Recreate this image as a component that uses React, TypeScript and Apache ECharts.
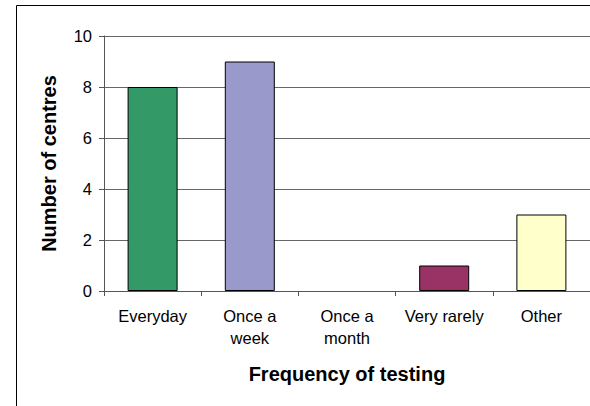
import React, { useEffect, useRef } from "react";
import * as echarts from "echarts";

const categories = ["Everyday", "Once a\nweek", "Once a\nmonth", "Very rarely", "Other"];
const values = [8, 9, 0, 1, 3];
const barColors = ["#339966", "#9999CC", "#FFFFFF", "#993366", "#FFFFCC"];
const yTicks = { min: 0, max: 10, interval: 2 };

const FONT = "'Liberation Sans', Arial, sans-serif";

export default function App() {
  const ref = useRef<HTMLDivElement>(null);
  useEffect(() => {
    if (!ref.current) return;
    const chart = echarts.init(ref.current, null, { renderer: "svg" });
    chart.setOption({
      animation: false,
      backgroundColor: "#ffffff",
      textStyle: { fontFamily: FONT },
      graphic: [
        {
          type: "rect",
          shape: { x: 16.5, y: 5.5, width: 700, height: 600 },
          style: { fill: "none", stroke: "#000", lineWidth: 1 },
          silent: true,
          z: 100,
        },
      ],
      grid: { left: 104, top: 36, right: -7, bottom: 115, containLabel: false },
      xAxis: {
        type: "category",
        data: categories,
        boundaryGap: true,
        axisLine: { show: true, lineStyle: { color: "#555", width: 1 } },
        axisTick: { show: true, length: 5, alignWithLabel: false, lineStyle: { color: "#555" } },
        axisLabel: {
          color: "#000",
          fontSize: 16.5,
          fontFamily: FONT,
          lineHeight: 22,
          margin: 14,
          interval: 0,
        },
        name: "Frequency of testing",
        nameLocation: "middle",
        nameGap: 73,
        nameTextStyle: { color: "#000", fontSize: 20, fontWeight: "bold", fontFamily: FONT },
      },
      yAxis: {
        type: "value",
        min: yTicks.min,
        max: yTicks.max,
        interval: yTicks.interval,
        axisLine: { show: true, lineStyle: { color: "#555", width: 1 } },
        axisTick: { show: true, length: 5, lineStyle: { color: "#555" } },
        splitLine: { show: true, lineStyle: { color: "#666", width: 1 } },
        axisLabel: { color: "#000", fontSize: 16.5, fontFamily: FONT, margin: 12 },
        name: "Number of centres",
        nameLocation: "middle",
        nameGap: 45,
        nameTextStyle: { color: "#000", fontSize: 20, fontWeight: "bold", fontFamily: FONT },
      },
      series: [
        {
          type: "bar",
          barWidth: 50,
          data: values.map((v, i) => ({
            value: v,
            itemStyle: {
              color: barColors[i],
              borderColor: "#000",
              borderWidth: v === 0 ? 0 : 1,
            },
          })),
        },
      ],
    });
    return () => chart.dispose();
  }, []);
  return (
    <div
      ref={ref}
      style={{ position: "absolute", left: 0, top: 0, width: 590, height: 406 }}
    />
  );
}
